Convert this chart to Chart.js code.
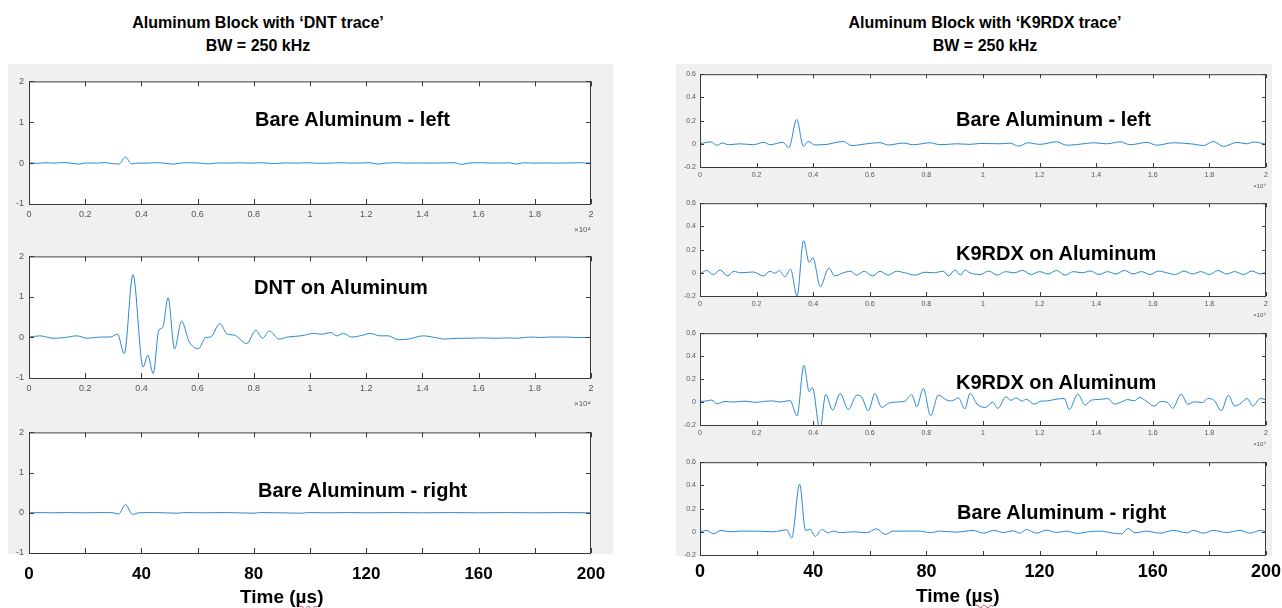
<!DOCTYPE html>
<html>
<head>
<meta charset="utf-8">
<script src="https://cdn.jsdelivr.net/npm/chart.js@4.4.1/dist/chart.umd.min.js"></script>
<style>
  body { margin:0; background:#fff; width:1282px; height:608px; position:relative; overflow:hidden;
         font-family:"Liberation Sans", Arial, Helvetica, sans-serif; }
  .panel { position:absolute; background:#f0f0f0; }
  canvas { position:absolute; }
  .title { position:absolute; width:440px; text-align:center; font-weight:bold; font-size:16px; line-height:23px; }
  .note { position:absolute; font-weight:bold; font-size:20px; line-height:24px; white-space:nowrap; }
  .axis-name { position:absolute; font-weight:bold; font-size:19px; line-height:24px; white-space:nowrap; }
  .axis-name span { text-decoration: underline wavy #e04040; text-decoration-thickness:1px; text-underline-offset:2px; }
</style>
</head>
<body>
<div class="panel" style="left:8px;top:64px;width:605px;height:490px"></div>
<div class="panel" style="left:676px;top:64px;width:596px;height:492px"></div>

<canvas id="l1"></canvas>
<canvas id="l2"></canvas>
<canvas id="l3"></canvas>
<canvas id="r1"></canvas>
<canvas id="r2"></canvas>
<canvas id="r3"></canvas>
<canvas id="r4"></canvas>

<div class="title" style="left:38px;top:11px">Aluminum Block with ‘DNT trace’<br>BW = 250 kHz</div>
<div class="title" style="left:765px;top:11px">Aluminum Block with ‘K9RDX trace’<br>BW = 250 kHz</div>

<div class="note" style="left:255px;top:107px">Bare Aluminum - left</div>
<div class="note" style="left:254px;top:275px">DNT on Aluminum</div>
<div class="note" style="left:258px;top:478px">Bare Aluminum - right</div>
<div class="note" style="left:956px;top:107px">Bare Aluminum - left</div>
<div class="note" style="left:956px;top:241px">K9RDX on Aluminum</div>
<div class="note" style="left:956px;top:370px">K9RDX on Aluminum</div>
<div class="note" style="left:957px;top:500px">Bare Aluminum - right</div>

<div class="axis-name" style="left:240px;top:585px">Time (<span>µs</span>)</div>
<div class="axis-name" style="left:916px;top:584px">Time (<span>µs</span>)</div>

<script>
// time in microseconds (axis shows samples x10^4, 2x10^4 = 200 us)
const bareLeftTime = [0, 3, 6, 9, 12, 15, 17.8, 20, 24, 27, 30, 32, 34.3, 36.5, 38.5, 42, 45, 48, 51.4, 54, 58, 61, 63.9, 67, 71, 75, 79, 83, 87, 91, 95, 99, 103, 107, 111, 115, 119, 121.5, 124, 127, 131, 135, 139, 143, 147, 151, 154, 157, 161, 165, 169, 171, 173.5, 176, 180, 184, 188, 192, 196, 200];
const bareLeftAmp = [0.01, -0.005, 0.01, 0, 0.015, 0, -0.025, 0.005, 0, 0.015, -0.015, -0.02, 0.15, -0.02, 0, 0, 0.01, 0, -0.025, 0.005, 0.01, 0, -0.02, 0.005, 0, 0.01, 0, 0.01, -0.01, 0.005, 0, 0.01, -0.005, 0, 0.01, 0, 0.005, 0.01, -0.025, 0, 0.01, 0, 0.005, 0, 0.005, 0.01, -0.03, 0.005, 0.01, 0, 0.005, 0.01, -0.025, 0.01, 0, 0.005, 0, 0.005, 0.01, 0];

const dntTime = [0, 3.9, 8.7, 13, 17, 20.6, 25.4, 28.9, 31.5, 33.9, 37, 40.6, 42.3, 44.2, 46.2, 47.6, 49.5, 51.8, 54.3, 57, 60.2, 62.9, 64.6, 67.9, 70.6, 73, 77.5, 80.7, 83.1, 85.5, 89, 92, 96.8, 101.5, 104, 107.5, 109.5, 111.9, 114.8, 119, 121.4, 124.9, 127.9, 131.4, 135, 140.3, 145.1, 148, 152.2, 156.9, 161, 166.4, 170, 173.5, 178.3, 182, 185.4, 190.2, 195, 200];
const dntAmp = [0.01, 0.04, -0.02, 0, 0.04, -0.02, 0.01, 0.01, 0.08, -0.4, 1.55, -0.73, -0.44, -0.89, 0.18, 0.25, 0.98, -0.28, 0.4, -0.1, -0.28, 0, 0.01, 0.34, 0.08, 0.06, -0.15, 0.18, -0.02, 0.16, -0.04, 0.01, 0.04, 0.1, 0.08, 0.12, 0.04, 0.1, 0.01, 0.06, 0.1, 0.04, 0.04, -0.055, -0.04, 0.04, -0.01, -0.04, -0.02, -0.02, -0.01, -0.02, -0.01, -0.02, 0.01, 0, 0.01, 0.01, 0, 0];

const bareRightTime = [0, 4, 8, 14, 20, 26, 30, 31.9, 34.3, 36.9, 39, 45, 53, 55, 62, 70, 80, 82, 90, 97, 99, 106, 114, 120, 130, 140, 150, 160, 170, 180, 190, 200];
const bareRightAmp = [0, 0.005, 0, 0.005, 0, 0.005, 0, -0.03, 0.2, -0.04, 0, 0.005, -0.01, 0.005, 0, 0.005, -0.01, 0.005, 0, -0.01, 0.005, 0, 0.005, 0, 0.005, 0, 0.005, 0, 0.005, 0, 0.005, 0];

const k9LeftTime = [0, 1.8, 3.9, 5.9, 7.9, 10, 14.1, 18.8, 22.6, 24.7, 29.4, 31.4, 34.2, 36.5, 38.3, 40.6, 44.8, 50.6, 53.6, 58.9, 63.6, 66.5, 71.8, 75.4, 81.3, 84.8, 90.7, 95.4, 99, 106, 109.5, 112.5, 116, 120, 126, 129.6, 136.6, 139, 143.7, 148.4, 152, 157.9, 161.4, 167.3, 174.4, 177.9, 181.4, 185, 189.7, 193.2, 195.6, 200];
const k9LeftAmp = [0, 0.01, 0.016, -0.013, 0.007, -0.008, 0, -0.008, 0.013, -0.008, 0.013, -0.033, 0.21, -0.02, 0.02, -0.01, -0.005, 0.02, -0.015, 0, 0.01, -0.01, 0.006, -0.008, 0.009, -0.008, 0, -0.005, 0.003, 0, 0.006, -0.02, 0.009, -0.005, 0.017, -0.012, 0.003, 0.009, 0, 0.017, -0.008, 0.012, -0.012, 0.009, -0.003, -0.015, 0.02, -0.023, 0.012, 0, 0.015, -0.003];

const k9DntTime = [0, 2.4, 4.7, 7.1, 9.7, 12, 14.1, 18.8, 22.4, 24.7, 26.5, 28, 30, 32, 34.3, 36.6, 38.6, 39.9, 42.5, 45.5, 47.7, 50.6, 53.2, 55.4, 58, 61, 63.6, 66.5, 69.5, 72.4, 76, 79.5, 82.4, 86, 87.8, 90.1, 92.1, 93.6, 95.4, 99, 102, 105, 108, 111, 114, 117, 120, 123, 126, 129, 132, 135, 138, 141, 144, 147, 150, 153, 156, 159, 162, 165, 168, 171, 174, 177, 180, 183, 186, 189, 192, 195, 198, 200];
const k9DntAmp = [-0.01, 0.02, -0.016, 0.024, -0.027, 0.013, 0, 0.007, -0.027, 0.013, -0.004, 0.02, -0.033, 0.03, -0.2, 0.277, 0.088, 0.13, -0.12, 0.039, -0.027, 0, 0.013, -0.02, 0.013, -0.027, 0.013, -0.02, 0.013, 0, -0.02, 0.005, 0, 0.013, -0.027, 0.024, -0.02, 0.024, 0, -0.015, 0.015, -0.02, 0.01, 0, 0.02, -0.015, 0.01, -0.01, 0.02, -0.02, 0.01, 0, 0.015, -0.015, 0.01, -0.01, 0.02, -0.01, 0.01, -0.015, 0.015, 0, -0.015, 0.015, -0.01, 0.01, -0.015, 0.02, -0.01, 0.01, -0.015, 0.015, -0.01, 0.005];

const k9RdxTime = [0, 2.4, 4.1, 6.1, 8.8, 11.8, 15.9, 19.4, 22.4, 25.7, 28.3, 31.8, 34.3, 36.7, 38.6, 39.7, 42.4, 44.4, 46.9, 49.5, 52.4, 55.4, 57.1, 59.5, 61.8, 64.2, 66.5, 69.5, 72.4, 74.8, 76.6, 78.9, 81.5, 84.2, 87.2, 88.9, 91.3, 93.6, 95.4, 97.9, 100.8, 103.4, 105.2, 108.1, 109.9, 111.6, 114, 115.2, 118.1, 120.5, 122.8, 125.2, 128.7, 130.5, 133.5, 136.1, 138.2, 141.1, 144.1, 146.4, 149.4, 151.1, 153.5, 155.2, 157.6, 160.5, 162.9, 165.3, 167, 170, 172.4, 174.7, 177.6, 179.4, 181.8, 184.2, 186.7, 188.9, 191.2, 193.3, 195.3, 198, 200];
const k9RdxAmp = [0.005, 0.01, 0.017, -0.015, 0.005, 0, 0.008, -0.003, 0.005, 0.01, 0, 0.013, -0.12, 0.32, 0.09, 0.126, -0.24, 0.065, -0.07, 0.074, -0.065, 0.06, 0.045, -0.076, 0.074, -0.047, -0.012, 0, 0.008, 0.065, -0.04, 0.118, -0.12, 0.06, 0.017, 0.01, 0.036, -0.06, 0.075, -0.018, -0.047, 0, -0.055, 0.045, 0.015, 0.036, 0.008, 0.025, -0.018, 0.008, 0.01, 0.022, 0.031, -0.065, 0.068, -0.027, 0.017, 0.022, 0.031, -0.018, 0.005, 0.022, 0.01, 0.04, 0.01, -0.035, 0.005, -0.005, -0.055, 0.068, -0.018, 0.002, -0.005, 0.031, 0.012, -0.076, 0.06, -0.035, -0.01, 0.031, -0.035, 0.031, 0.02];

const k9RightTime = [0, 2.4, 4.7, 7.4, 10.6, 14.1, 20, 25.9, 30.6, 32.4, 35.2, 37.3, 38.9, 40.8, 43, 45.3, 47.1, 49.5, 54.2, 58.9, 62.4, 65.4, 68.3, 73, 77.7, 81.3, 84.8, 90.7, 96.6, 100.2, 103.7, 107.2, 110.7, 113, 115.4, 118.9, 122.4, 126, 129.6, 133.1, 137.2, 141.4, 146.1, 149, 151.3, 153.7, 157.8, 162.5, 167.2, 172, 174.3, 177.9, 181.4, 186.1, 190.8, 194.4, 197.9, 200];
const k9RightAmp = [0, 0.012, -0.017, 0.012, 0, 0.006, 0.006, 0, 0.017, -0.052, 0.41, 0.012, 0.02, -0.04, 0.02, -0.008, 0.006, -0.008, 0, -0.008, 0.026, -0.023, 0.006, 0.006, 0.006, -0.008, 0.006, -0.003, 0.012, -0.012, 0.012, -0.006, 0.009, -0.012, 0.02, -0.012, 0.014, -0.006, 0.006, -0.014, 0, 0.006, -0.012, -0.017, 0.029, -0.009, 0.006, -0.012, 0.012, -0.009, 0.012, -0.012, 0.012, -0.006, 0.012, -0.012, 0.012, 0];

const leftAmpTicks = [-1, 2, 1];      // min, max, step
const rightAmpTicks = [-0.2, 0.6, 0.2];
const timeStep = 20;
const bigTimeStep = 40;

const lineColor = '#2b87d1';
const tickFont = '"Liberation Sans", Arial, Helvetica, sans-serif';

// MATLAB style box: white plot area, frame and inward ticks on all four sides
const boxPlugin = {
  id: 'matlabBox',
  beforeDatasetsDraw(chart) {
    const {ctx, chartArea: a} = chart;
    ctx.save();
    ctx.fillStyle = '#fff';
    ctx.fillRect(a.left, a.top, a.right - a.left, a.bottom - a.top);
    ctx.restore();
  },
  afterDatasetsDraw(chart, args, opts) {
    const {ctx, chartArea: a} = chart;
    const x = chart.scales.x, y = chart.scales.y;
    const len = opts.tickLen;
    ctx.save();
    ctx.strokeStyle = '#3a3a3a';
    ctx.lineWidth = 1;
    ctx.beginPath();
    x.ticks.forEach(t => {
      const px = Math.round(x.getPixelForValue(t.value)) + 0.5;
      ctx.moveTo(px, a.bottom); ctx.lineTo(px, a.bottom - len);
      ctx.moveTo(px, a.top); ctx.lineTo(px, a.top + len);
    });
    y.ticks.forEach(t => {
      const py = Math.round(y.getPixelForValue(t.value)) + 0.5;
      ctx.moveTo(a.left, py); ctx.lineTo(a.left + len, py);
      ctx.moveTo(a.right, py); ctx.lineTo(a.right - len, py);
    });
    ctx.stroke();
    ctx.strokeRect(a.left + 0.5, a.top + 0.5, a.right - a.left - 1, a.bottom - a.top);
    ctx.restore();
  }
};

function drawTrace(id, times, amps, ampTicks, s) {
  const canvas = document.getElementById(id);
  const w = s.axisW + s.width + s.padRight;
  const h = s.padTop + s.height + s.xAxisH;
  canvas.width = w;
  canvas.height = h;
  canvas.style.left = (s.left - s.axisW) + 'px';
  canvas.style.top = (s.top - s.padTop) + 'px';
  canvas.style.width = w + 'px';
  canvas.style.height = h + 'px';

  const xTicks = s.big
    ? { stepSize: timeStep, autoSkip: false, maxRotation: 0, padding: s.xPad, color: '#000',
        font: { family: tickFont, size: s.bigSize, weight: 'bold' },
        callback: v => (v % bigTimeStep === 0 ? String(v) : '') }
    : { stepSize: timeStep, autoSkip: false, maxRotation: 0, padding: s.xPad, color: '#555',
        font: { family: tickFont, size: s.font },
        callback: v => String(+(v / 100).toFixed(1)) };

  new Chart(canvas, {
    type: 'line',
    data: {
      datasets: [{
        data: times.map((t, i) => ({ x: t, y: amps[i] })),
        borderColor: lineColor,
        borderWidth: 1,
        pointRadius: 0,
        cubicInterpolationMode: 'monotone'
      }]
    },
    options: {
      responsive: false,
      animation: false,
      events: [],
      layout: { padding: { top: s.padTop, right: s.padRight, left: 0, bottom: 0 } },
      plugins: {
        legend: { display: false },
        tooltip: { enabled: false },
        matlabBox: { tickLen: s.tickLen }
      },
      scales: {
        x: {
          type: 'linear', min: 0, max: 200,
          afterFit: sc => { sc.height = s.xAxisH; },
          grid: { display: false, drawTicks: false },
          border: { display: false },
          ticks: xTicks,
          title: {
            display: !s.big, text: '×10⁴', align: 'end', color: '#555',
            font: { family: tickFont, size: s.font - 1 },
            padding: { top: 0, bottom: s.expPad }
          }
        },
        y: {
          min: ampTicks[0], max: ampTicks[1],
          afterFit: sc => { sc.width = s.axisW; },
          grid: { display: false, drawTicks: false },
          border: { display: false },
          ticks: { stepSize: ampTicks[2], padding: s.yPad, color: '#555',
                   font: { family: tickFont, size: s.font } }
        }
      }
    },
    plugins: [boxPlugin]
  });
}

const leftBase = { left: 29, width: 562, axisW: 29, padTop: 8, padRight: 14, tickLen: 5, font: 9, xPad: 5, yPad: 5, xAxisH: 34, expPad: 3 };
const rightBase = { left: 700, width: 566, axisW: 24, padTop: 8, padRight: 14, tickLen: 4, font: 7, xPad: 4, yPad: 4, xAxisH: 26, expPad: 3 };

drawTrace('l1', bareLeftTime, bareLeftAmp, leftAmpTicks, { ...leftBase, top: 79, height: 125 });
drawTrace('l2', dntTime, dntAmp, leftAmpTicks, { ...leftBase, top: 254, height: 124 });
drawTrace('l3', bareRightTime, bareRightAmp, leftAmpTicks, { ...leftBase, top: 430, height: 123, xAxisH: 50, padRight: 30, big: true, bigSize: 17, xPad: 11 });
drawTrace('r1', k9LeftTime, k9LeftAmp, rightAmpTicks, { ...rightBase, top: 74, height: 93 });
drawTrace('r2', k9DntTime, k9DntAmp, rightAmpTicks, { ...rightBase, top: 203, height: 93 });
drawTrace('r3', k9RdxTime, k9RdxAmp, rightAmpTicks, { ...rightBase, top: 333, height: 92 });
drawTrace('r4', k9RightTime, k9RightAmp, rightAmpTicks, { ...rightBase, top: 462, height: 93, xAxisH: 40, padRight: 30, big: true, bigSize: 18, xPad: 6 });
</script>
</body>
</html>
